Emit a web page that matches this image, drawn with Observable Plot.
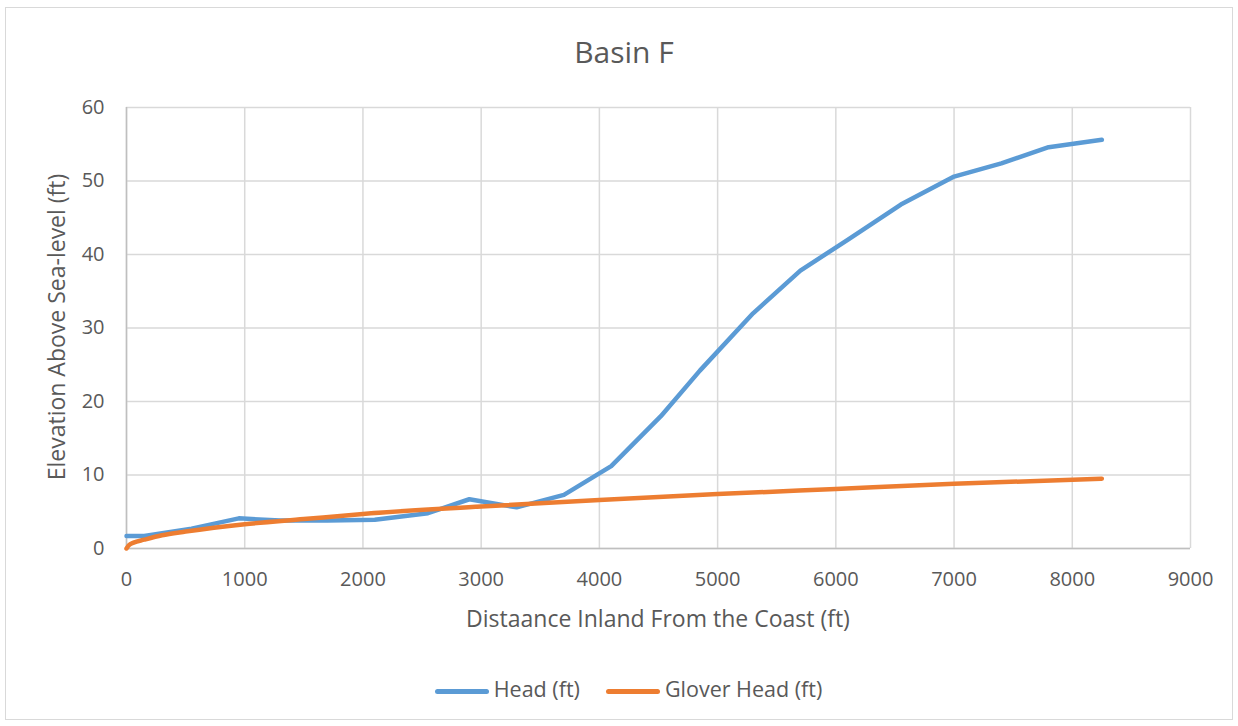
<!DOCTYPE html>
<html><head><meta charset="utf-8">
<script src="https://cdn.jsdelivr.net/npm/d3@7"></script>
<script src="https://cdn.jsdelivr.net/npm/@observablehq/plot@0.6"></script>
<style>
body{margin:0;background:#fff;font-family:"Open Sans",sans-serif;color:#595959;}
#wrap{position:relative;width:1238px;height:726px;overflow:hidden;}
#frame{position:absolute;left:5px;top:7px;width:1228px;height:713px;border:1px solid #d9d9d9;box-sizing:border-box;}
.t{position:absolute;white-space:nowrap;color:#595959;line-height:1.3;}
#title{left:0;width:1248px;top:32px;text-align:center;font-size:30px;}
#xt{left:126px;width:1064px;top:604px;text-align:center;font-size:23px;}
#yt{left:57px;top:327px;font-size:23px;transform:translate(-50%,-50%) rotate(-90deg);}
#legend{left:0;width:1257px;top:675px;text-align:center;font-size:21.5px;}
.sw{display:inline-block;width:54px;height:5px;border-radius:3px;vertical-align:middle;margin-right:5px;}
.li{display:inline-block;margin:0 13px;}
#plot{position:absolute;left:0;top:0;}
</style></head>
<body><div id="wrap"><div id="frame"></div><div id="plot"></div>
<div class="t" id="title">Basin F</div>
<div class="t" id="xt">Distaance Inland From the Coast (ft)</div>
<div class="t" id="yt">Elevation Above Sea-level (ft)</div>
<div class="t" id="legend"><span class="li"><span class="sw" style="background:#5b9bd5"></span>Head (ft)</span><span class="li"><span class="sw" style="background:#ed7d31"></span>Glover Head (ft)</span></div>
</div>
<script>
const headX = [0,150,550,950,1300,1700,2100,2550,2900,3300,3700,4100,4520,4850,5300,5700,6100,6550,7000,7400,7800,8250];
const headY = [1.7,1.7,2.7,4.1,3.8,3.8,3.9,4.8,6.7,5.6,7.3,11.2,18.0,24.2,32.0,37.8,42.0,46.8,50.6,52.4,54.6,55.6];
const gloverX = [0,20,60,150,300,500,1000,1500,2000,3000,4000,5000,6000,7000,8250];
const gloverY = [0,0.45,0.8,1.2,1.8,2.3,3.3,4.0,4.7,5.7,6.6,7.4,8.1,8.8,9.5];
const xTicks = [0,1000,2000,3000,4000,5000,6000,7000,8000,9000];
const yTicks = [0,10,20,30,40,50,60];

const head = headX.map((x,i)=>({x, y: headY[i]}));
const glover = gloverX.map((x,i)=>({x, y: gloverY[i]}));

const chart = Plot.plot({
  width: 1238, height: 726,
  marginLeft: 126, marginRight: 48, marginTop: 107, marginBottom: 178,
  style: {fontFamily: '"Open Sans", sans-serif', fontSize: "20px", color: "#595959", background: "transparent", overflow: "visible"},
  x: {domain: [0, 9000], ticks: xTicks, label: null},
  y: {domain: [0, 60], ticks: yTicks, label: null},
  marks: [
    Plot.gridX(xTicks, {stroke: "#d9d9d9", strokeOpacity: 1, strokeWidth: 1.5}),
    Plot.gridY(yTicks, {stroke: "#d9d9d9", strokeOpacity: 1, strokeWidth: 1.5}),
    Plot.ruleX([0], {stroke: "#bfbfbf", strokeWidth: 1.5}),
    Plot.ruleY([0], {stroke: "#bfbfbf", strokeWidth: 1.5}),
    Plot.axisX(xTicks, {tickSize: 0, tickPadding: 23, fontSize: 20, fill: "#595959", tickFormat: d3.format("d")}),
    Plot.axisY(yTicks, {tickSize: 0, tickPadding: 22, fontSize: 20, fill: "#595959", tickFormat: d3.format("d")}),
    Plot.line(head, {x: "x", y: "y", stroke: "#5b9bd5", strokeWidth: 4.5, strokeLinecap: "round", strokeLinejoin: "round"}),
    Plot.line(glover, {x: "x", y: "y", stroke: "#ed7d31", strokeWidth: 4.5, curve: "monotone-x", strokeLinecap: "round", strokeLinejoin: "round"})
  ]
});
document.getElementById("plot").appendChild(chart);
</script></body></html>
